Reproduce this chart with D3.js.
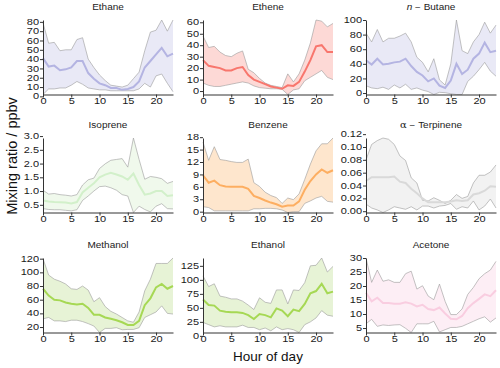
<!DOCTYPE html>
<html>
<head>
<meta charset="utf-8">
<script src="https://cdn.jsdelivr.net/npm/d3@7"></script>
<style>
  body { margin: 0; background: #fff; }
  svg { display: block; font-family: "Liberation Sans", Arial, sans-serif; }
  .axis path, .axis line { stroke: #333; }
  .axis text { fill: #1a1a1a; }
</style>
</head>
<body>
<div id="chart"></div>
<script>
var hours = [0,1,2,3,4,5,6,7,8,9,10,11,12,13,14,15,16,17,18,19,20,21,22,23];

var ethaneMean = [41,32,33,28,29,31,38,38,25,19,14,12,9,9,7,8,10,16,31,38,45,52,43,46];
var ethaneLow  = [2,8,8,9,9,12,16,13,9,8,7,7,6,6,6,6,6,8,14,10,22,24,14,5];
var ethaneHigh = [79,57,58,49,50,50,61,63,40,31,23,17,12,11,10,12,19,26,49,69,71,82,70,82];

var etheneMean = [27,22,21,20,18,18,20,21,14,10,8,6,4,3,2,5,4.5,8,17,27,39,40,34,34];
var etheneLow  = [7,5,4,4,5,6,7,8,7,4.5,3,2.5,2,2,1.5,-3,1,2,9,12,15,18,12,10];
var etheneHigh = [48,38,39,34,31,30,33,35,19,16,11,7,5,4,3,15,8,15,27,42,62,61,56,59];

var butaneMean = [45,39,47,39,40,42,43,47,37,29,24,16,20,10,7,17,40,26,32,47,54,69,56,58];
var butaneLow  = [10,7,6,8,5,11,7,12,5,7,4,2,-2,1,0.5,-1,-2,-2,16,23,32,42,30,23];
var butaneHigh = [82,70,87,70,75,75,78,82,70,49,42,29,47,18,11,40,100,58,54,70,80,97,82,93];

var isopreneMean = [0.66,0.62,0.6,0.59,0.58,0.55,0.6,0.95,1.12,1.28,1.5,1.6,1.66,1.6,1.53,1.41,1.64,1.22,0.87,0.91,1.0,1.0,0.82,0.85];
var isopreneLow  = [0.36,0.33,0.32,0.32,0.3,0.28,0.32,0.66,0.82,1.0,1.16,1.18,1.12,1.03,0.87,0.82,0.22,0.45,0.33,0.24,0.45,0.54,0.36,0.35];
var isopreneHigh = [1.03,0.89,0.91,0.87,0.85,0.82,0.87,1.22,1.41,1.47,1.82,1.99,2.12,2.15,2.18,1.87,2.93,2.15,1.43,1.53,1.5,1.45,1.28,1.35];

var benzeneMean = [8.8,7,7.5,6.4,6.1,6,6,6,5.5,3.8,3.3,2.7,2.2,1.8,1.2,1.5,1.5,2.5,5.3,7.4,9,10.2,9.4,10];
var benzeneLow  = [1.2,1,0.2,0.2,0.2,0.2,0.2,0.2,0.2,0.7,0.7,0.8,0.8,0.7,0.4,-0.2,0,0,2,2.6,3.3,3.7,2.5,2.3];
var benzeneHigh = [16.8,12.4,15.7,12.6,12.4,12.1,11.9,11.9,12.7,7,6.1,4.7,3.9,3.4,2,3.3,2.9,4.3,7.8,11.5,14.7,16.4,16.4,17.8];

var terpMean = [0.047,0.053,0.053,0.053,0.053,0.054,0.046,0.044,0.035,0.028,0.02,0.014,0.014,0.014,0.014,0.015,0.017,0.016,0.017,0.026,0.028,0.032,0.039,0.038];
var terpLow  = [0.011,0.005,0.002,-0.002,0.002,0.007,0.005,0.003,0.007,0.002,0.008,0.008,0.005,0.008,0.009,0.012,0.003,0.007,0.005,0.016,0.002,0.008,0.019,0.005];
var terpHigh = [0.080,0.104,0.110,0.114,0.112,0.104,0.086,0.079,0.052,0.044,0.017,0.016,0.021,0.017,0.012,0.017,0.026,0.020,0.023,0.044,0.056,0.056,0.061,0.072];

var methanolMean = [76,66,60,59,56,54,53,54,48,38,38,34,32,30,27,23,23,29,52,62,78,83,76,80];
var methanolLow  = [32,34,29,29,28,30,30,28,25,21.5,12,18,18,19,16,16.5,16.5,19,34,38,42,51,40,39];
var methanolHigh = [120,96,90,87,83,76,75,80,74,57,63,50,43,39,34,29,27,42,73,90,113,113,113,121];

var ethanolMean = [65,55,54,45,43,42,42,41,37,30,39,37,33,49,45,35,47,44,57,76,80,93,76,79];
var ethanolLow  = [24,20,16,18,16,16,16,19,15,15,11,14,9,16,11,13,11,6,20,25,32,45,37,35];
var ethanolHigh = [107,88,93,71,69,66,66,62,55,47,68,60,58,82,82,57,82,81,95,125,126,139,114,124];

var acetoneMean = [17.6,14.5,15.8,13.9,13.9,13.7,13.7,14.2,13.7,12.7,13.3,11.8,11.4,12.3,10.2,8.3,8.1,9.3,12.1,13.9,15.4,17,16.4,18.5];
var acetoneLow  = [6.5,8.1,5.6,6.1,5.9,6.1,6.2,4.9,3.4,6.5,6.5,6.5,7.4,3.6,4.4,5.2,5.2,5.6,6.5,7.4,8.3,9,7.1,8.6];
var acetoneHigh = [30,21.3,25.7,21.7,22.2,21.3,21.3,24.4,25.3,18.9,20.1,16.4,15.1,20.7,14.5,9.8,9.8,11.8,17,19.5,22.6,24.4,25.7,28.8];

var compounds = ["Ethane", "Ethene", "n-Butane", "Isoprene", "Benzene", "a-Terpinene", "Methanol", "Ethanol", "Acetone"];
var xTicks = [0, 5, 10, 15, 20];
var yTicks = [
  [0,10,20,30,40,50,60,70,80],
  [0,10,20,30,40,50,60],
  [0,20,40,60,80,100],
  [0.5,1.0,1.5,2.0,2.5,3.0],
  [0,3,6,9,12,15,18],
  [0,0.02,0.04,0.06,0.08,0.10,0.12],
  [20,40,60,80,100,120],
  [0,25,50,75,100,125],
  [5,10,15,20,25,30]
];
var tickFormats = ["d", "d", "d", ".1f", "d", ".2f", "d", "d", "d"];
var lineColors = ["#b4b4e2", "#f8766d", "#b4b4e2", "#d2f0ca", "#fdae61", "#d9d9d9", "#a6d854", "#a6d854", "#f9cde0"];
var fillColors = ["#e9e9f6", "#fdd9d6", "#e9e9f6", "#f0f9ec", "#fee6cd", "#f2f2f2", "#e7f3d6", "#e7f3d6", "#fdeef5"];

var means = [ethaneMean, etheneMean, butaneMean, isopreneMean, benzeneMean, terpMean, methanolMean, ethanolMean, acetoneMean];
var lows  = [ethaneLow, etheneLow, butaneLow, isopreneLow, benzeneLow, terpLow, methanolLow, ethanolLow, acetoneLow];
var highs = [ethaneHigh, etheneHigh, butaneHigh, isopreneHigh, benzeneHigh, terpHigh, methanolHigh, ethanolHigh, acetoneHigh];

var w = 500;
var h = 368;
var colLeft = [43, 203, 366];
var rowTop = [20, 138, 258];
var pw = 130;
var ph = 74.5;
var squish = 0.74;   // text in the reference is squashed vertically

var svg = d3.select("#chart")
    .append("svg")
    .attr("width", w)
    .attr("height", h);

compounds.forEach(function(name, i) {
    var col = i % 3, row = Math.floor(i / 3);
    var g = svg.append("g")
        .attr("transform", "translate(" + colLeft[col] + "," + rowTop[row] + ")");

    var data = hours.map(function(hr, k) {
        return {hour: hr, mean: means[i][k], lo: lows[i][k], hi: highs[i][k]};
    });

    var xScale = d3.scaleLinear()
        .domain([0, 23])
        .range([0, pw]);
    var yScale = d3.scaleLinear()
        .domain([d3.min(data, function(d) { return d.lo; }), d3.max(data, function(d) { return d.hi; })])
        .range([ph, 0]);

    var area = d3.area()
        .x(function(d) { return xScale(d.hour); })
        .y0(function(d) { return yScale(d.lo); })
        .y1(function(d) { return yScale(d.hi); });

    g.append("path")
        .datum(data)
        .attr("d", area)
        .attr("fill", fillColors[i]);

    g.append("path")
        .datum(data)
        .attr("d", d3.line().x(function(d) { return xScale(d.hour); }).y(function(d) { return yScale(d.hi); }))
        .attr("fill", "none")
        .attr("stroke", "#9a9a9a")
        .attr("stroke-width", 0.6);

    g.append("path")
        .datum(data)
        .attr("d", d3.line().x(function(d) { return xScale(d.hour); }).y(function(d) { return yScale(d.lo); }))
        .attr("fill", "none")
        .attr("stroke", "#9a9a9a")
        .attr("stroke-width", 0.6);

    g.append("path")
        .datum(data)
        .attr("d", d3.line().x(function(d) { return xScale(d.hour); }).y(function(d) { return yScale(d.mean); }))
        .attr("fill", "none")
        .attr("stroke", lineColors[i])
        .attr("stroke-width", 2);

    //// AXES ////
    var xAxis = d3.axisBottom(xScale).tickValues(xTicks).tickSize(3).tickPadding(2).tickSizeOuter(0);
    var yAxis = d3.axisLeft(yScale).tickValues(yTicks[i]).tickFormat(d3.format(tickFormats[i]))
        .tickSize(3).tickPadding(1).tickSizeOuter(0);

    g.append("g")
        .attr("class", "x axis")
        .attr("transform", "translate(0," + ph + ")")
        .call(xAxis)
        .attr("font-size", "11px")
        .attr("font-family", null)
        .selectAll("text")
        .attr("transform", "scale(1," + squish + ")");

    g.append("g")
        .attr("class", "y axis")
        .call(yAxis)
        .attr("font-size", "11px")
        .attr("font-family", null)
        .selectAll("text")
        .attr("transform", "scale(1," + squish + ")");

    //// TITLE ////
    var title = g.append("text")
        .attr("transform", "translate(" + (pw / 2) + ",-10) scale(1,0.85)")
        .attr("text-anchor", "middle")
        .attr("font-size", "10px")
        .attr("fill", "#222");
    if (name == "n-Butane") {
        title.append("tspan").attr("font-style", "italic").text("n");
        title.append("tspan").text(" \u2212 Butane");
    } else if (name == "a-Terpinene") {
        title.append("tspan").attr("font-family", "DejaVu Serif").text("\u03b1");
        title.append("tspan").text(" \u2212 Terpinene");
    } else {
        title.text(name);
    }
});

//// AXIS LABELS ////
svg.append("text")
    .attr("x", 268)
    .attr("y", 361)
    .attr("text-anchor", "middle")
    .attr("font-size", "13.5px")
    .attr("fill", "#111")
    .text("Hour of day");

svg.append("text")
    .attr("transform", "translate(17,156) rotate(-90)")
    .attr("text-anchor", "middle")
    .attr("font-size", "14.5px")
    .attr("fill", "#111")
    .text("Mixing ratio / ppbv");
</script>
</body>
</html>
